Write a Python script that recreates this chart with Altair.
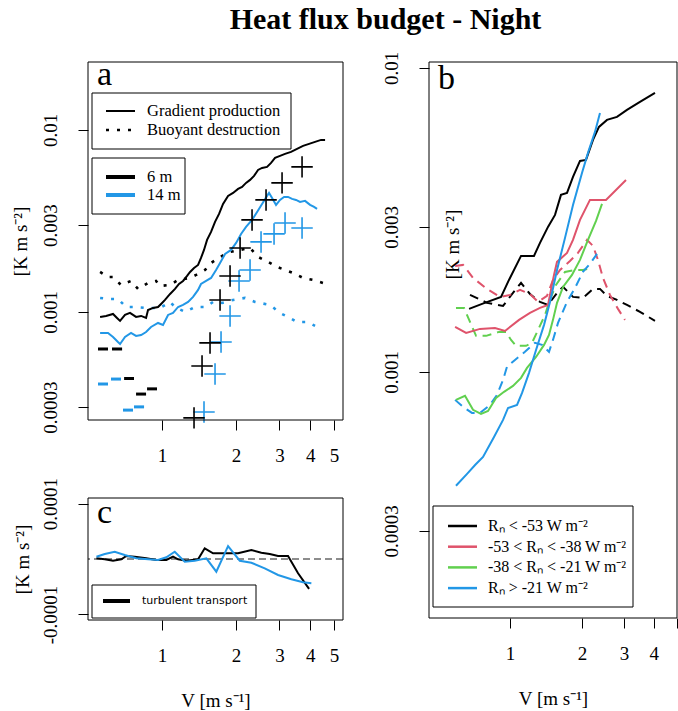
import altair as alt
import pandas as pd

SERIF = "Liberation Serif"
BLUE = "#2297E6"
RED = "#DF536B"
GREEN = "#61D04F"
BLACK = "#000000"
DOTTED = [3, 8]
DASHED = [9, 6]

# ---------------- panel a: budget terms at 6 m and 14 m ----------------
prod6_v = [0.560, 0.592, 0.632, 0.656, 0.675, 0.707, 0.741, 0.784, 0.822, 0.861,
           0.877, 0.919, 0.963, 1.0, 1.028, 1.078, 1.129, 1.172, 1.217, 1.264,
           1.300, 1.349, 1.401, 1.440, 1.481, 1.524, 1.582, 1.642, 1.705, 1.770,
           1.855, 1.944, 2.037, 2.115, 2.195, 2.279, 2.366, 2.456, 2.550, 2.672,
           2.774, 2.880, 3.017, 3.162, 3.345, 3.538, 3.743, 3.960, 4.188, 4.430, 4.600]
prod6_f = [9.39e-4, 9.51e-4, 9.75e-4, 9.27e-4, 8.93e-4, 9.63e-4, 9.88e-4, 9.39e-4, 9.51e-4, 9.27e-4,
           1.025e-3, 1.052e-3, 1.065e-3, 1.121e-3, 1.164e-3, 1.256e-3, 1.338e-3, 1.425e-3, 1.480e-3, 1.577e-3,
           1.659e-3, 1.745e-3, 1.812e-3, 1.980e-3, 2.191e-3, 2.487e-3, 2.752e-3, 3.123e-3, 3.455e-3, 3.921e-3,
           4.340e-3, 4.507e-3, 4.741e-3, 4.863e-3, 5.115e-3, 5.313e-3, 5.588e-3, 6.029e-3, 6.184e-3, 6.263e-3,
           6.588e-3, 7.018e-3, 7.197e-3, 7.381e-3, 7.570e-3, 7.862e-3, 8.167e-3, 8.377e-3, 8.591e-3, 8.812e-3, 8.812e-3]

prod14_v = [0.560, 0.603, 0.632, 0.662, 0.675, 0.707, 0.748, 0.784, 0.822, 0.861,
            0.902, 0.963, 1.009, 1.058, 1.108, 1.162, 1.217, 1.276, 1.337, 1.401,
            1.440, 1.510, 1.582, 1.658, 1.721, 1.804, 1.908, 2.000, 2.095, 2.195,
            2.322, 2.434, 2.550, 2.672, 2.722, 2.801, 2.907, 3.017, 3.133, 3.252,
            3.377, 3.505, 3.639, 3.814, 3.997, 4.149, 4.267]
prod14_f = [7.67e-4, 7.67e-4, 7.29e-4, 6.84e-4, 6.67e-4, 7.29e-4, 7.67e-4, 7.38e-4, 7.47e-4, 7.76e-4,
            8.27e-4, 8.70e-4, 8.48e-4, 9.63e-4, 9.87e-4, 1.065e-3, 1.093e-3, 1.135e-3, 1.209e-3, 1.321e-3,
            1.425e-3, 1.480e-3, 1.538e-3, 1.701e-3, 1.859e-3, 2.083e-3, 2.191e-3, 2.394e-3, 2.683e-3, 2.931e-3,
            3.203e-3, 3.543e-3, 3.921e-3, 4.340e-3, 4.507e-3, 4.231e-3, 3.873e-3, 4.125e-3, 4.284e-3, 4.284e-3,
            4.178e-3, 4.125e-3, 4.022e-3, 4.074e-3, 3.873e-3, 3.776e-3, 3.681e-3]

buoy6_v = [0.560, 0.603, 0.632, 0.681, 0.748, 0.799, 0.877, 0.945, 0.981, 1.078,
           1.162, 1.300, 1.375, 1.496, 1.582, 1.721, 1.890, 2.076, 2.279, 2.456,
           2.697, 2.934, 3.162, 3.409, 3.743, 4.110, 4.513]
buoy6_f = [1.659e-3, 1.557e-3, 1.557e-3, 1.407e-3, 1.480e-3, 1.338e-3, 1.443e-3, 1.480e-3, 1.389e-3, 1.407e-3,
           1.499e-3, 1.538e-3, 1.597e-3, 1.701e-3, 1.859e-3, 2.005e-3, 2.136e-3, 2.191e-3, 2.247e-3, 2.005e-3,
           1.883e-3, 1.767e-3, 1.701e-3, 1.638e-3, 1.538e-3, 1.499e-3, 1.443e-3]

buoy14_v = [0.560, 0.603, 0.662, 0.714, 0.784, 0.861, 0.981, 1.078, 1.129, 1.240,
            1.362, 1.510, 1.612, 1.754, 1.944, 2.175, 2.388, 2.748, 3.017, 3.314,
            3.538, 3.887, 4.188]
buoy14_f = [1.194e-3, 1.179e-3, 1.179e-3, 1.065e-3, 1.065e-3, 1.052e-3, 1.052e-3, 1.135e-3, 1.065e-3, 1.000e-3,
            1.065e-3, 1.065e-3, 1.135e-3, 1.121e-3, 1.164e-3, 1.194e-3, 1.135e-3, 1.093e-3, 9.87e-4, 9.27e-4,
            8.81e-4, 8.81e-4, 8.38e-4]

cross6_v = [1.349, 1.454, 1.567, 1.721, 1.890, 2.076, 2.322, 2.647, 3.075, 3.708]
cross6_f = [2.62e-4, 5.05e-4, 6.76e-4, 1.164e-3, 1.577e-3, 2.247e-3, 3.203e-3, 4.125e-3, 5.115e-3, 6.263e-3]
cross14_v = [1.481, 1.642, 1.737, 1.890, 2.056, 2.279, 2.526, 2.853, 3.162, 3.708]
cross14_f = [2.82e-4, 4.56e-4, 6.84e-4, 9.51e-4, 1.480e-3, 1.701e-3, 2.425e-3, 2.683e-3, 3.083e-3, 2.894e-3]

step6_v0 = [0.549, 0.626, 0.701, 0.784, 0.869]
step6_v1 = [0.603, 0.688, 0.769, 0.861, 0.954]
step6_f = [6.26e-4, 6.26e-4, 4.31e-4, 3.54e-4, 3.78e-4]
step14_v0 = [0.549, 0.620, 0.694, 0.769]
step14_v1 = [0.603, 0.681, 0.762, 0.845]
step14_f = [4.02e-4, 4.28e-4, 2.89e-4, 3.01e-4]

# ---------------- panel b: production / destruction by net radiation class ----------------
rn1_prod_v = [0.674, 0.764, 0.917, 0.990, 1.112, 1.260, 1.335, 1.442, 1.543, 1.634,
              1.732, 1.835, 1.963, 2.080, 2.225, 2.357, 2.546, 2.804, 3.087, 3.499, 4.044]
rn1_prod_f = [1.612e-3, 1.674e-3, 1.765e-3, 2.007e-3, 2.408e-3, 2.408e-3, 2.657e-3, 2.999e-3, 3.285e-3, 3.822e-3,
              3.880e-3, 4.380e-3, 4.945e-3, 4.983e-3, 5.798e-3, 6.398e-3, 6.746e-3, 6.902e-3, 7.277e-3, 7.731e-3, 8.275e-3]
rn2_prod_v = [0.589, 0.655, 0.749, 0.865, 0.953, 1.091, 1.212, 1.335, 1.442, 1.484,
              1.528, 1.573, 1.732, 1.835, 1.963, 2.161, 2.522, 3.058]
rn2_prod_f = [1.406e-3, 1.344e-3, 1.385e-3, 1.395e-3, 1.364e-3, 1.483e-3, 1.564e-3, 1.624e-3, 1.661e-3, 1.861e-3,
              2.085e-3, 2.301e-3, 2.463e-3, 2.718e-3, 3.162e-3, 3.680e-3, 3.680e-3, 4.281e-3]
rn3_prod_v = [0.594, 0.648, 0.700, 0.756, 0.809, 0.874, 0.944, 1.029, 1.112, 1.178,
              1.285, 1.388, 1.456, 1.513, 1.573, 1.667, 1.817, 1.963, 2.120, 2.291, 2.427]
rn3_prod_f = [8.09e-4, 8.34e-4, 7.50e-4, 7.27e-4, 7.44e-4, 8.21e-4, 8.60e-4, 8.99e-4, 9.56e-4, 1.031e-3,
              1.120e-3, 1.227e-3, 1.323e-3, 1.483e-3, 1.687e-3, 1.904e-3, 2.085e-3, 2.336e-3, 2.718e-3, 3.138e-3, 3.570e-3]
rn4_prod_v = [0.594, 0.661, 0.714, 0.771, 0.857, 0.935, 0.981, 1.070, 1.123, 1.201,
              1.285, 1.388, 1.470, 1.573, 1.699, 1.835, 2.001, 2.120, 2.268, 2.380]
rn4_prod_f = [4.22e-4, 4.62e-4, 4.94e-4, 5.25e-4, 6.11e-4, 6.95e-4, 7.61e-4, 7.79e-4, 8.53e-4, 9.93e-4,
              1.181e-3, 1.428e-3, 1.699e-3, 2.165e-3, 2.760e-3, 3.543e-3, 4.514e-3, 5.253e-3, 6.159e-3, 7.112e-3]

rn1_buoy_v = [0.680, 0.801, 0.935, 1.029, 1.112, 1.212, 1.335, 1.442, 1.573, 1.667,
              1.835, 2.020, 2.225, 2.380, 2.546, 2.804, 3.087, 3.499, 4.044]
rn1_buoy_f = [1.792e-3, 1.687e-3, 1.649e-3, 1.819e-3, 1.962e-3, 1.805e-3, 1.699e-3, 1.661e-3, 1.819e-3, 1.904e-3,
              1.765e-3, 1.752e-3, 1.875e-3, 1.875e-3, 1.778e-3, 1.726e-3, 1.661e-3, 1.576e-3, 1.472e-3]
rn2_buoy_v = [0.589, 0.636, 0.700, 0.801, 0.908, 1.0, 1.101, 1.212, 1.310, 1.428,
              1.513, 1.619, 1.782, 1.925, 2.100, 2.225, 2.334, 2.450, 2.620, 2.831, 3.028]
rn2_buoy_f = [2.232e-3, 2.249e-3, 2.038e-3, 1.875e-3, 1.765e-3, 1.792e-3, 1.861e-3, 1.805e-3, 1.699e-3, 1.778e-3,
              2.007e-3, 2.165e-3, 2.318e-3, 2.463e-3, 2.718e-3, 2.597e-3, 2.336e-3, 2.038e-3, 1.792e-3, 1.612e-3, 1.483e-3]
rn3_buoy_v = [0.594, 0.642, 0.680, 0.721, 0.794, 0.899, 0.962, 1.010, 1.060, 1.167,
              1.236, 1.322, 1.401, 1.470, 1.557, 1.699, 1.871, 2.020, 2.203]
rn3_buoy_f = [1.624e-3, 1.624e-3, 1.460e-3, 1.314e-3, 1.314e-3, 1.354e-3, 1.354e-3, 1.274e-3, 1.218e-3, 1.218e-3,
              1.246e-3, 1.395e-3, 1.540e-3, 1.726e-3, 1.933e-3, 2.133e-3, 2.165e-3, 2.165e-3, 2.199e-3]
rn4_buoy_v = [0.589, 0.636, 0.693, 0.749, 0.825, 0.882, 0.935, 0.971, 1.049, 1.155,
              1.272, 1.361, 1.456, 1.513, 1.588, 1.732, 1.871, 2.020, 2.161, 2.312]
rn4_buoy_f = [8.09e-4, 7.67e-4, 7.33e-4, 7.33e-4, 7.79e-4, 8.40e-4, 9.41e-4, 1.039e-3, 1.095e-3, 1.164e-3,
              1.246e-3, 1.227e-3, 1.164e-3, 1.274e-3, 1.449e-3, 1.699e-3, 1.889e-3, 2.133e-3, 2.266e-3, 2.444e-3]

rn_labels = ["R\u2099 < -53 W m\u207b\u00b2", "-53 < R\u2099 < -38 W m\u207b\u00b2",
             "-38 < R\u2099 < -21 W m\u207b\u00b2", "R\u2099 > -21 W m\u207b\u00b2"]

# ---------------- panel c: turbulent transport ----------------
tt6_v = [0.541, 0.585, 0.632, 0.683, 0.716, 0.774, 0.863, 0.948, 1.041, 1.108,
         1.162, 1.255, 1.401, 1.491, 1.612, 1.799, 2.037, 2.307, 2.533, 2.741,
         2.962, 3.252, 3.572, 3.960]
tt6_f = [1.3e-6, -0.5e-6, -3.1e-6, -0.5e-6, 5.4e-6, 4.1e-6, 1.3e-6, -1.8e-6, -1.8e-6, 4.1e-6,
         -0.5e-6, -3.1e-6, -0.5e-6, 19.3e-6, 10.3e-6, 10.3e-6, 10.3e-6, 16.2e-6, 11.4e-6, 9.0e-6,
         5.4e-6, 5.4e-6, -25.8e-6, -54.0e-6]
tt14_v = [0.541, 0.585, 0.642, 0.705, 0.786, 0.877, 0.963, 1.041, 1.126, 1.237,
          1.358, 1.514, 1.662, 1.855, 2.070, 2.307, 2.615, 2.962, 3.355, 3.743, 4.046]
tt14_f = [4.1e-6, 9.0e-6, 13.2e-6, 7.2e-6, 1.3e-6, -0.5e-6, -1.8e-6, 3.1e-6, 13.2e-6, -4.9e-6,
          -3.1e-6, 1.3e-6, -22.9e-6, 23.4e-6, -3.1e-6, -6.7e-6, -16.8e-6, -28.8e-6, -36.6e-6, -42.0e-6, -43.8e-6]

ONE = pd.DataFrame({"k": [0]})

# ---------------- geometry of the left column (panels a and c share one view) ----------------
WL = 255            # width of panels a and c
HA = 358            # panel a height
C_TOP, C_BOT = 436, 558   # panel c band inside the left view
WB, HB = 248, 556   # panel b
GAP = 86            # space between the two columns

XA = alt.Scale(type="log", domain=[0.5, 5.44], nice=False, zero=False)
XC = alt.Scale(type="log", domain=[0.5, 5.44], nice=False, zero=False)
YA = alt.Scale(type="log", domain=[0.000255, 0.0236], nice=False, zero=False, range=[HA, 0])
YC = alt.Scale(domain=[-1.1e-4, 1.1e-4], nice=False, zero=False, range=[C_BOT, C_TOP])
XB = alt.Scale(type="log", domain=[0.458, 5.0], nice=False, zero=False)
YB = alt.Scale(type="log", domain=[0.000155, 0.01046], nice=False, zero=False)

AX_FONT = 19
COMMON = dict(tickSize=10, tickColor="black", tickWidth=1,
              domain=False, grid=False,
              labelFont=SERIF, labelFontSize=AX_FONT, labelColor="black",
              labelFlush=False, labelOverlap=False, labelBound=False)


def x_axis(title=None, hide_five=False, offset=0):
    kw = dict(COMMON, values=[1, 2, 3, 4, 5], format="~g", labelPadding=16,
              labelAlign="center", labelBaseline="top", orient="bottom", offset=offset)
    if hide_five:
        kw["labelExpr"] = "datum.value >= 5 ? '' : datum.label"
    if title:
        kw.update(title=title, titleFont=SERIF, titleFontSize=AX_FONT, titleFontWeight="normal",
                  titleColor="black", titlePadding=26)
    else:
        kw["title"] = None
    return alt.Axis(**kw)


def y_axis(values, title_x, title_y, expr=None):
    kw = dict(COMMON, values=values, orient="left", labelAngle=270, labelAlign="center",
              labelBaseline="bottom", labelPadding=18,
              title="[K m s\u207b\u00b2]", titleFont=SERIF, titleFontSize=AX_FONT,
              titleFontWeight="normal", titleColor="black", titleAngle=270,
              titleAlign="center", titleBaseline="middle", titleX=title_x, titleY=title_y)
    if expr:
        kw["labelExpr"] = expr
    else:
        kw["format"] = ".4~f"
    return alt.Axis(**kw)


def line(v, f, xs, ys, xax, yax, color, width=2.0, dash=None):
    df = pd.DataFrame({"V": v, "F": f})
    mk = dict(color=color, strokeWidth=width)
    if dash:
        mk["strokeDash"] = dash
    return alt.Chart(df).mark_line(**mk).encode(
        x=alt.X("V:Q", scale=xs, axis=xax), y=alt.Y("F:Q", scale=ys, axis=yax))


def crosses(v, f, xs, ys, xax, yax, color):
    df = pd.DataFrame({"V": v, "F": f})
    return alt.Chart(df).mark_point(shape="M-1,0L1,0M0,-1L0,1", size=460, filled=False,
                                    color=color, strokeWidth=1.6, opacity=1).encode(
        x=alt.X("V:Q", scale=xs, axis=xax), y=alt.Y("F:Q", scale=ys, axis=yax))


def steps(v0, v1, f, xs, ys, xax, yax, color):
    df = pd.DataFrame({"V0": v0, "V1": v1, "F": f})
    return alt.Chart(df).mark_rule(color=color, strokeWidth=3).encode(
        x=alt.X("V0:Q", scale=xs, axis=xax), x2="V1:Q", y=alt.Y("F:Q", scale=ys, axis=yax))


def box(x0, x1, y0, y1, fill=True):
    mk = dict(stroke="black", strokeWidth=1)
    if fill:
        mk["fill"] = "white"
    else:
        mk["fillOpacity"] = 0
    return alt.Chart(ONE).mark_rect(**mk).encode(
        x=alt.value(x0), x2=alt.value(x1), y=alt.value(y0), y2=alt.value(y1))


def entry(x0, x1, tx, y, label, color, width=2.0, dash=None, font=SERIF, size=16.5):
    mk = dict(color=color, strokeWidth=width)
    if dash:
        mk["strokeDash"] = dash
    sample = alt.Chart(ONE).mark_rule(**mk).encode(
        x=alt.value(x0), x2=alt.value(x1), y=alt.value(y))
    text = alt.Chart(ONE).mark_text(text=label, align="left", baseline="middle", font=font,
                                    fontSize=size, color="black").encode(
        x=alt.value(tx), y=alt.value(y))
    return [sample, text]


def tag(letter, y):
    return alt.Chart(ONE).mark_text(text=letter, align="left", baseline="alphabetic",
                                    font=SERIF, fontSize=34, color="black").encode(
        x=alt.value(9), y=alt.value(y))


# ---------------- panel a ----------------
xa_ax = x_axis(offset=HA - C_BOT)
ya_ax = y_axis([0.0003, 0.001, 0.003, 0.01], -68, HA / 2)
panel_a = alt.layer(
    line(buoy6_v, buoy6_f, XA, YA, xa_ax, ya_ax, BLACK, 2.6, DOTTED),
    line(buoy14_v, buoy14_f, XA, YA, xa_ax, ya_ax, BLUE, 2.6, DOTTED),
    line(prod6_v, prod6_f, XA, YA, xa_ax, ya_ax, BLACK),
    line(prod14_v, prod14_f, XA, YA, xa_ax, ya_ax, BLUE),
    steps(step6_v0, step6_v1, step6_f, XA, YA, xa_ax, ya_ax, BLACK),
    steps(step14_v0, step14_v1, step14_f, XA, YA, xa_ax, ya_ax, BLUE),
    crosses(cross14_v, cross14_f, XA, YA, xa_ax, ya_ax, BLUE),
    crosses(cross6_v, cross6_f, XA, YA, xa_ax, ya_ax, BLACK),
    box(4, 203, 31, 87),
    *entry(18, 47, 59, 49, "Gradient production", BLACK, 2),
    *entry(18, 47, 59, 68, "Buoyant destruction", BLACK, 2.6, DOTTED),
    box(4, 97, 96, 152),
    *entry(18, 47, 59, 115, "6 m", BLACK, 4),
    *entry(18, 47, 59, 133, "14 m", BLUE, 4),
    tag("a", 23),
    box(0, WL, 0, HA, fill=False),
)

# ---------------- panel c ----------------
xc_ax = x_axis("V [m s\u207b\u00b9]")
yc_ax = y_axis([-0.0001, 0.0001], -66, (C_TOP + C_BOT) / 2,
               "datum.value > 0 ? '0.0001' : '-0.0001'")
zero_line = alt.Chart(ONE).mark_rule(color="#1a1a1a", strokeWidth=1, strokeDash=[7, 4]).encode(
    y=alt.Y(datum=0, scale=YC, axis=yc_ax))
panel_c = alt.layer(
    zero_line,
    line(tt6_v, tt6_f, XC, YC, xc_ax, yc_ax, BLACK),
    line(tt14_v, tt14_f, XC, YC, xc_ax, yc_ax, BLUE),
    box(4, 168, C_TOP + 87, C_TOP + 120),
    *entry(15, 42, 54, C_TOP + 103, "turbulent transport", BLACK, 4, font="DejaVu Sans", size=11),
    tag("c", C_TOP + 25),
    box(0, WL, C_TOP, C_BOT, fill=False),
)

left = alt.layer(panel_a, panel_c).resolve_scale(
    x="independent", y="independent").resolve_axis(
    x="independent", y="independent").properties(width=WL, height=C_BOT)

# ---------------- panel b ----------------
xb_ax = x_axis("V [m s\u207b\u00b9]", hide_five=True)
yb_ax = y_axis([0.0003, 0.001, 0.003, 0.01], 23, 182)
b_layers = []
for v, f, c in [(rn1_buoy_v, rn1_buoy_f, BLACK), (rn2_buoy_v, rn2_buoy_f, RED),
                (rn3_buoy_v, rn3_buoy_f, GREEN), (rn4_buoy_v, rn4_buoy_f, BLUE)]:
    b_layers.append(line(v, f, XB, YB, xb_ax, yb_ax, c, 2, DASHED))
for v, f, c in [(rn1_prod_v, rn1_prod_f, BLACK), (rn2_prod_v, rn2_prod_f, RED),
                (rn3_prod_v, rn3_prod_f, GREEN), (rn4_prod_v, rn4_prod_f, BLUE)]:
    b_layers.append(line(v, f, XB, YB, xb_ax, yb_ax, c, 2))
b_layers.append(box(4, 204, 444, 545))
for i, (lab, c) in enumerate(zip(rn_labels, [BLACK, RED, GREEN, BLUE])):
    b_layers += entry(19, 48, 59, 464 + i * 20.7, lab, c, 2.5, size=16)
b_layers.append(tag("b", 27))
b_layers.append(box(0, WB, 0, HB, fill=False))
panel_b = alt.layer(*b_layers).properties(width=WB, height=HB)

# the title is centred over both columns, measured from the left view's origin
chart = alt.hconcat(left, panel_b, spacing=GAP, bounds="flush").properties(
    title=alt.TitleParams("Heat flux budget - Night", font=SERIF, fontSize=30,
                          fontWeight="bold", color="black", anchor="middle",
                          frame="group", dx=(WL + GAP + WB) / 2 + 3, offset=16),
    padding={"left": 11, "top": 5, "right": 0, "bottom": 2},
    background="white",
).configure_view(stroke=None)

chart.save("out.html", embed_options={"renderer": "svg", "actions": False})
